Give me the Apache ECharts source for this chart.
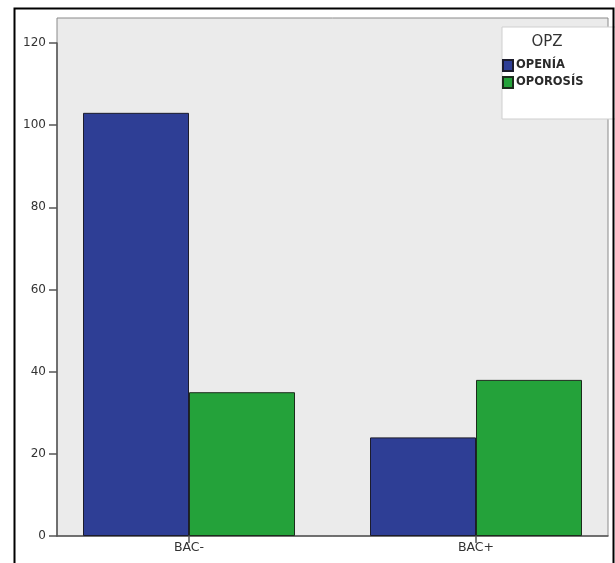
<!DOCTYPE html>
<html>
<head>
<meta charset="utf-8">
<script src="https://cdn.jsdelivr.net/npm/echarts@6/dist/echarts.min.js"></script>
<style>
  html, body { margin: 0; padding: 0; background: #ffffff; }
  #chart { width: 615px; height: 563px; }
</style>
</head>
<body>
<div id="chart"></div>
<script>
const categories = ['BAC-', 'BAC+'];
const seriesNames = ['OPENÍA', 'OPOROSÍS'];
const openiaValues = [103, 24];
const oporosisValues = [35, 38];
const yTickMin = 0;
const yTickMax = 120;
const yTickStep = 20;
const legendTitle = 'OPZ';

const chart = echarts.init(document.getElementById('chart'), null, { renderer: 'canvas' });

const axisColor = '#555555';
const hiddenValueAxis = (gridIndex) => ({ type: 'value', gridIndex, show: false, min: 0, max: 1 });

chart.setOption({
  animation: false,
  backgroundColor: '#ffffff',
  textStyle: { fontFamily: 'DejaVu Sans' },
  graphic: [{
    type: 'rect',
    left: 12, top: 6,
    shape: { width: 599, height: 620 },
    style: { fill: 'none', stroke: '#000000', lineWidth: 2 },
    z: 100, silent: true
  }],
  title: {
    text: legendTitle,
    left: 547,
    top: 35,
    textAlign: 'center',
    padding: 0,
    textStyle: { fontFamily: 'DejaVu Sans', fontSize: 15, fontWeight: 'normal', color: '#333333' }
  },
  legend: {
    orient: 'vertical',
    left: 502,
    top: 27,
    padding: [32, 34, 30, 0],
    itemGap: 4,
    itemWidth: 10,
    itemHeight: 11,
    icon: 'rect',
    backgroundColor: '#ffffff',
    borderColor: '#cfcfcf',
    borderWidth: 1,
    textStyle: { fontFamily: 'DejaVu Sans', fontSize: 11.5, fontWeight: 'bold', color: '#2a2a2a', padding: [0, 0, 0, -2] },
    data: seriesNames
  },
  grid: [
    // plot background and frame (full plot area)
    { left: 57, right: 7, top: 18, bottom: 27, show: true, backgroundColor: '#ebebeb', borderColor: '#8a8a8a', borderWidth: 1 },
    // visible value axis, 0..120
    { left: 57, right: 7, top: 43, bottom: 27 },
    // category positions for the bars (first and last category at the edges)
    { left: 189, right: 139, top: 43, bottom: 27 }
  ],
  xAxis: [
    hiddenValueAxis(0),
    {
      type: 'value', gridIndex: 1, min: 0, max: 1,
      splitLine: { show: false },
      axisLine: { show: true, lineStyle: { color: axisColor, width: 1.5 } },
      axisTick: { show: false },
      axisLabel: { show: false }
    },
    {
      type: 'category', gridIndex: 2, data: categories,
      boundaryGap: false,
      axisLine: { show: false },
      axisTick: { show: true, length: 7, lineStyle: { color: axisColor, width: 1.5 } },
      axisLabel: { margin: 5, fontFamily: 'DejaVu Sans', fontSize: 12.5, color: '#333333' }
    }
  ],
  yAxis: [
    hiddenValueAxis(0),
    {
      type: 'value', gridIndex: 1,
      min: yTickMin, max: yTickMax, interval: yTickStep,
      splitLine: { show: false },
      axisLine: { show: true, lineStyle: { color: axisColor, width: 1.5 } },
      axisTick: { show: true, length: 8, lineStyle: { color: axisColor, width: 1.5 } },
      axisLabel: { margin: 11, fontFamily: 'DejaVu Sans', fontSize: 12, color: '#333333' }
    },
    {
      type: 'value', gridIndex: 2, show: false,
      min: yTickMin, max: yTickMax
    }
  ],
  series: [
    {
      name: seriesNames[0],
      type: 'bar',
      xAxisIndex: 2, yAxisIndex: 2,
      data: openiaValues,
      barWidth: 106,
      barGap: '0%',
      clip: false,
      itemStyle: { color: '#2e3e95', borderColor: '#1c1c2c', borderWidth: 1 }
    },
    {
      name: seriesNames[1],
      type: 'bar',
      xAxisIndex: 2, yAxisIndex: 2,
      data: oporosisValues,
      barWidth: 106,
      barGap: '0%',
      clip: false,
      itemStyle: { color: '#24a23a', borderColor: '#1c2c1c', borderWidth: 1 }
    }
  ]
});
</script>
</body>
</html>
